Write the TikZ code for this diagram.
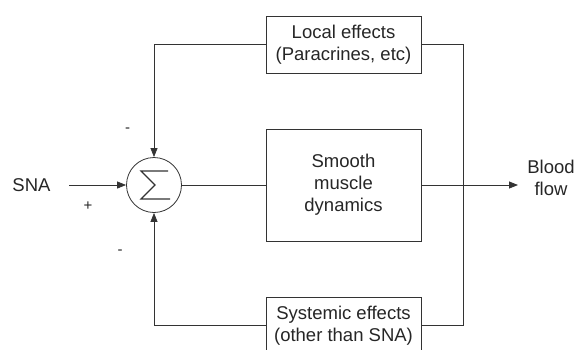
\documentclass[tikz,border=0pt]{standalone}
\usepackage{fontspec}
\setmainfont{Liberation Sans}
\usetikzlibrary{arrows.meta}
\begin{document}
\begin{tikzpicture}[x=1pt,y=-1pt,
  line width=0.8pt, draw=black!80,
  txt/.style={font=\fontsize{18.5}{22}\selectfont, text=black!85, align=center, inner sep=0pt},
  blk/.style={draw=black!80, txt, minimum width=155pt},
  arr/.style={-{Triangle[length=9pt,width=7pt]}},
  sgn/.style={font=\fontsize{15}{15}\selectfont, text=black!85, inner sep=0pt}]
\useasboundingbox (0,0) rectangle (576,349);
\node[blk, minimum height=57pt] (local) at (343.5,44.5) {Local effects\\(Paracrines, etc)};
\node[blk, minimum height=112pt] (smooth) at (343.5,185) {Smooth\\muscle\\dynamics};
\node[blk, minimum height=57pt] (sys) at (343.5,325.5) {Systemic effects\\(other than SNA)};
\node[draw=black!80, circle, minimum size=55pt, inner sep=0pt] (sum) at (154,185) {};
\draw[line width=1.1pt, line join=miter] (168,171) -- (141,171) -- (155,185) -- (141,199) -- (170,199);
\node[txt] (sna) at (31.5,185) {SNA};
\node[txt] (flow) at (551,178) {Blood\\flow};
\node[sgn] (plus) at (88,206) {+};
\node[sgn] (m1) at (127.5,130) {-};
\node[sgn] (m2) at (120,252) {-};
\coordinate (snaend) at (69,185);
\coordinate (out) at (518,185);
\coordinate (rtop) at (463,44.5);
\coordinate (rbot) at (463,325.5);
\coordinate (ltop) at (154,44.5);
\coordinate (lbot) at (154,325.5);
\draw[arr] (snaend) -- (sum.west);
\draw (sum.east) -- (smooth.west);
\draw[arr] (smooth.east) -- (out);
\draw (local.east) -- (rtop) -- (rbot) -- (sys.east);
\draw[arr] (local.west) -- (ltop) -- (sum.north);
\draw[arr] (sys.west) -- (lbot) -- (sum.south);
\end{tikzpicture}
\end{document}
